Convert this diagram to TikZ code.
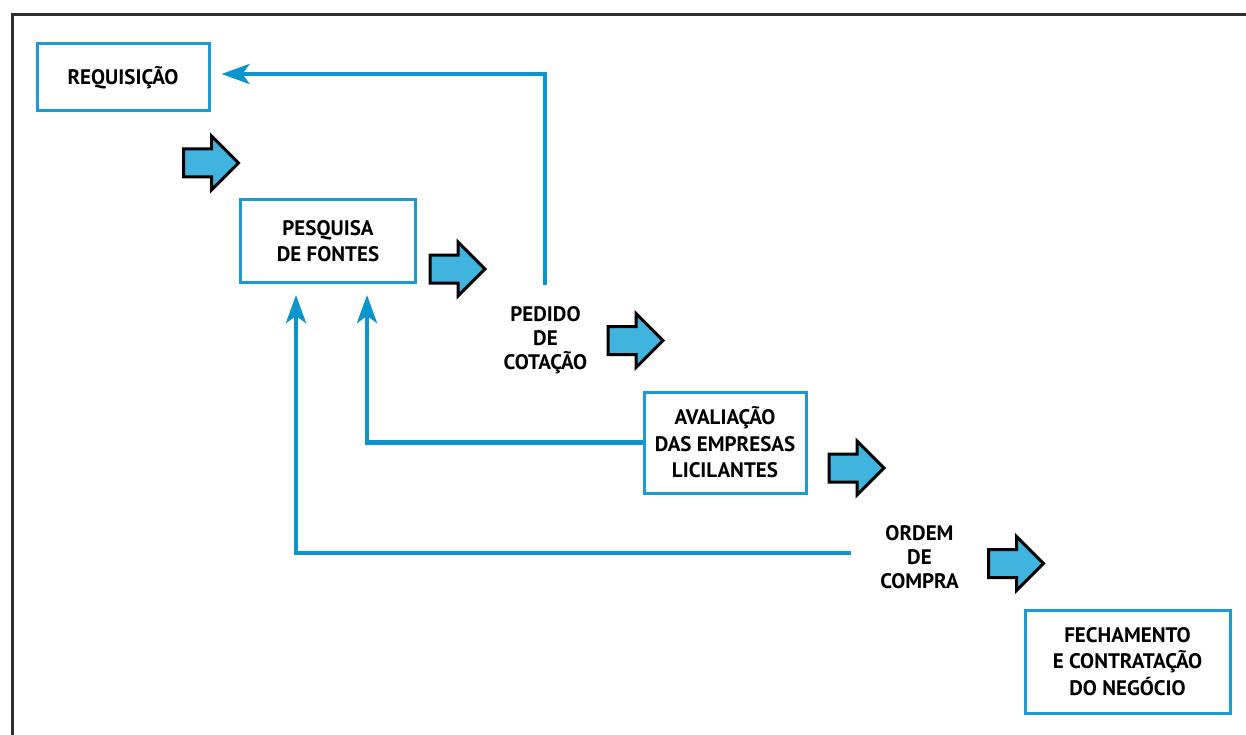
\documentclass[tikz,border=0pt]{standalone}
\usepackage{fontspec}
\setmainfont{PT Sans}
\usepackage{tikz}
\usetikzlibrary{positioning,arrows.meta,shapes.arrows}
\definecolor{linkblue}{HTML}{0A96CD}
\definecolor{boxblue}{HTML}{1B9AD4}
\definecolor{fillblue}{HTML}{40B4DE}
\definecolor{frameg}{HTML}{2E2E2E}

\begin{document}
\begin{tikzpicture}[x=1pt, y=-1pt,
  box/.style={draw=boxblue, line width=3pt, inner sep=0pt, align=center,
              font=\fontsize{21}{26.5}\selectfont\bfseries},
  lbl/.style={align=center, inner sep=0pt, font=\fontsize{21}{24}\selectfont\bfseries},
  bigarr/.style={single arrow, draw=black, fill=fillblue, line width=3pt,
                 inner sep=12.5pt, minimum height=55pt,
                 single arrow head extend=13pt, single arrow tip angle=90},
  conn/.style={draw=linkblue, line width=4.5pt,
               -{Stealth[length=28pt, width=20pt, inset=7pt]}}
]
  \useasboundingbox (0,0) rectangle (1246,735);

  % frame (only top and left edges show)
  \draw[frameg, line width=3pt] (12,735) -- (12,15) -- (1246,15);

  % boxes
  \node[box, minimum width=172pt, minimum height=67pt] (req) at (123,77.5) {REQUISIÇÃO};
  \node[box, minimum width=175pt, minimum height=83pt] (pesq) at (328,241) {PESQUISA\\DE FONTES};
  \node[box, minimum width=162pt, minimum height=101pt] (aval) at (725,442.5)
    {AVALIAÇÃO\\DAS EMPRESAS\\LICILANTES};
  \node[box, minimum width=205pt, minimum height=103pt] (fech) at (1127.5,661.5)
    {FECHAMENTO\\E CONTRATAÇÃO\\DO NEGÓCIO};

  % free labels
  \node[lbl] (pedido) at (545.5,340) {PEDIDO\\DE\\COTAÇÃO};
  \node[lbl] (ordem) at (919.5,557) {ORDEM\\DE\\COMPRA};

  % block arrows down the stair
  \node[bigarr] (a1) at (204,163) {};
  \node[bigarr] (a2) at (450.5,269) {};
  \node[bigarr] (a3) at (628.5,340.5) {};
  \node[bigarr] (a4) at (849.5,468) {};
  \node[bigarr] (a5) at (1009,563.5) {};

  % feedback lines
  \coordinate (pedtop) at (545,285);
  \coordinate (ordend) at (851,553);
  \draw[conn] (pedtop) |- ([xshift=11pt, yshift=3.5pt]req.east);
  \draw[conn] (aval.west) -| ([xshift=39pt, yshift=-11pt]pesq.south);
  \draw[conn] (ordend) -| ([xshift=-32pt, yshift=-11pt]pesq.south);
\end{tikzpicture}
\end{document}
